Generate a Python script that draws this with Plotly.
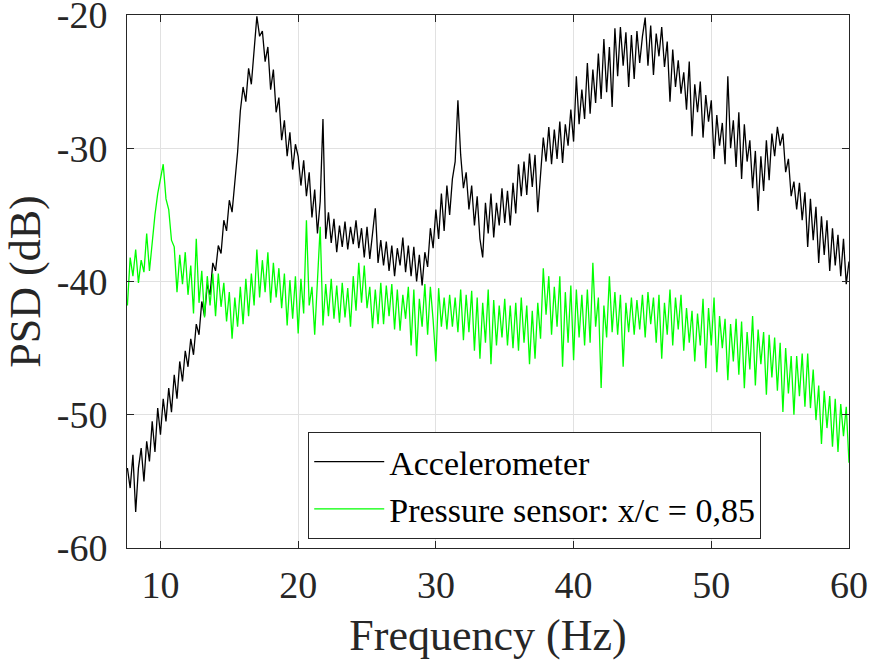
import plotly.graph_objects as go

freq = [
    7.6, 7.8,
    8.0, 8.2, 8.4, 8.6, 8.8, 9.0, 9.2, 9.4, 9.6, 9.8,
    10.0, 10.2, 10.4, 10.6, 10.8, 11.0, 11.2, 11.4, 11.6, 11.8,
    12.0, 12.2, 12.4, 12.6, 12.8, 13.0, 13.2, 13.4, 13.6, 13.8,
    14.0, 14.2, 14.4, 14.6, 14.8, 15.0, 15.2, 15.4, 15.6, 15.8,
    16.0, 16.2, 16.4, 16.6, 16.8, 17.0, 17.2, 17.4, 17.6, 17.8,
    18.0, 18.2, 18.4, 18.6, 18.8, 19.0, 19.2, 19.4, 19.6, 19.8,
    20.0, 20.2, 20.4, 20.6, 20.8, 21.0, 21.2, 21.4, 21.6, 21.8,
    22.0, 22.2, 22.4, 22.6, 22.8, 23.0, 23.2, 23.4, 23.6, 23.8,
    24.0, 24.2, 24.4, 24.6, 24.8, 25.0, 25.2, 25.4, 25.6, 25.8,
    26.0, 26.2, 26.4, 26.6, 26.8, 27.0, 27.2, 27.4, 27.6, 27.8,
    28.0, 28.2, 28.4, 28.6, 28.8, 29.0, 29.2, 29.4, 29.6, 29.8,
    30.0, 30.2, 30.4, 30.6, 30.8, 31.0, 31.2, 31.4, 31.6, 31.8,
    32.0, 32.2, 32.4, 32.6, 32.8, 33.0, 33.2, 33.4, 33.6, 33.8,
    34.0, 34.2, 34.4, 34.6, 34.8, 35.0, 35.2, 35.4, 35.6, 35.8,
    36.0, 36.2, 36.4, 36.6, 36.8, 37.0, 37.2, 37.4, 37.6, 37.8,
    38.0, 38.2, 38.4, 38.6, 38.8, 39.0, 39.2, 39.4, 39.6, 39.8,
    40.0, 40.2, 40.4, 40.6, 40.8, 41.0, 41.2, 41.4, 41.6, 41.8,
    42.0, 42.2, 42.4, 42.6, 42.8, 43.0, 43.2, 43.4, 43.6, 43.8,
    44.0, 44.2, 44.4, 44.6, 44.8, 45.0, 45.2, 45.4, 45.6, 45.8,
    46.0, 46.2, 46.4, 46.6, 46.8, 47.0, 47.2, 47.4, 47.6, 47.8,
    48.0, 48.2, 48.4, 48.6, 48.8, 49.0, 49.2, 49.4, 49.6, 49.8,
    50.0, 50.2, 50.4, 50.6, 50.8, 51.0, 51.2, 51.4, 51.6, 51.8,
    52.0, 52.2, 52.4, 52.6, 52.8, 53.0, 53.2, 53.4, 53.6, 53.8,
    54.0, 54.2, 54.4, 54.6, 54.8, 55.0, 55.2, 55.4, 55.6, 55.8,
    56.0, 56.2, 56.4, 56.6, 56.8, 57.0, 57.2, 57.4, 57.6, 57.8,
    58.0, 58.2, 58.4, 58.6, 58.8, 59.0, 59.2, 59.4, 59.6, 59.8,
    60.0,
]

accelerometer_db = [
    -54.0, -55.5,
    -53.0, -57.3, -54.0, -52.5, -55.0, -52.0, -53.5, -50.5, -52.8, -49.5,
    -51.5, -48.8, -50.5, -48.0, -49.8, -47.0, -48.8, -46.0, -47.5, -45.2,
    -46.4, -44.3, -45.5, -43.2, -44.0, -41.5, -42.6, -40.2, -41.0, -38.6,
    -39.2, -37.3, -37.9, -35.4, -36.2, -33.9, -34.8, -32.8, -30.3, -27.2,
    -25.4, -26.5, -24.0, -25.2, -22.6, -20.1, -21.6, -21.2, -23.5, -22.4,
    -25.6, -24.1, -27.3, -26.2, -29.4, -27.9, -30.6, -28.8, -31.6, -29.7,
    -30.6, -32.8, -30.9, -33.6, -31.8, -35.2, -33.1, -36.4, -34.0, -27.8,
    -36.8, -34.8, -37.1, -35.3, -37.8, -35.8, -37.4, -35.5, -37.6, -35.9,
    -37.2, -35.4, -37.5, -36.0, -38.2, -35.9, -38.3, -36.5, -34.5, -38.6,
    -36.9, -38.8, -37.0, -39.2, -37.3, -39.6, -37.5, -38.8, -36.7, -39.3,
    -37.3, -39.6, -37.4, -40.0, -38.0, -40.3, -37.8, -38.9, -36.0, -37.5,
    -34.6, -36.8, -33.4, -36.2, -32.8, -35.0, -32.3, -31.0, -26.4, -30.5,
    -33.0, -31.8, -34.6, -32.8, -35.8, -33.6, -36.8, -38.2, -34.1, -36.4,
    -33.4, -36.7, -34.1, -35.8, -33.0, -35.6, -33.2, -35.8, -32.6, -34.9,
    -31.2, -33.6, -31.0, -33.5, -30.4, -32.9, -30.5, -34.8, -31.6, -29.2,
    -31.0, -28.4, -31.2, -28.6, -30.8, -28.0, -31.1, -28.2, -29.8, -27.1,
    -29.5, -24.6, -28.2, -25.6, -27.8, -23.6, -27.4, -24.1, -26.6, -22.9,
    -26.3, -21.8, -25.8, -22.4, -26.9, -21.0, -24.6, -20.9, -23.8, -21.3,
    -25.4, -21.5, -24.8, -21.2, -23.6, -21.6, -20.2, -23.8, -20.8, -24.5,
    -21.4, -23.1, -20.9, -23.9, -22.0, -26.5, -22.6, -25.4, -23.4, -25.9,
    -24.3, -27.1, -23.5, -29.1, -25.2, -27.3, -25.0, -29.2, -26.0, -28.0,
    -26.4, -30.8, -27.5, -29.8, -28.1, -31.2, -24.6, -30.0, -27.9, -31.4,
    -27.3, -32.3, -28.2, -31.0, -29.4, -33.0, -30.2, -34.7, -30.6, -33.2,
    -29.4, -32.4, -28.9, -30.6, -28.4, -29.8, -28.9, -31.8, -30.8, -33.6,
    -32.5, -34.6, -32.6, -35.4, -33.3, -37.4, -33.8, -36.9, -34.4, -38.6,
    -35.1, -38.0, -35.4, -39.2, -36.0, -38.8, -36.5, -39.6, -36.8, -40.2,
    -38.5,
]

pressure_db = [
    -41.8, -38.2,
    -39.6, -37.6, -40.1, -38.4, -39.3, -36.4, -39.2, -36.8, -35.0, -33.4,
    -32.3, -31.2, -33.8, -34.6, -36.9, -37.4, -40.8, -38.0, -40.2, -37.8,
    -41.0, -38.8, -42.4, -36.8, -41.6, -39.2, -42.7, -39.6, -41.8, -39.4,
    -42.6, -39.4, -41.9, -40.1, -43.0, -40.8, -44.3, -41.2, -43.4, -40.4,
    -43.2, -39.8, -42.6, -39.4, -41.8, -37.6, -41.2, -38.4, -40.8, -37.8,
    -41.6, -38.6, -41.2, -39.0, -42.0, -39.4, -43.3, -39.9, -42.8, -39.6,
    -43.9, -39.8, -42.4, -35.4, -41.8, -40.4, -44.0, -40.0, -35.9, -43.3,
    -40.2, -42.6, -39.8, -42.8, -40.3, -43.1, -40.1, -42.7, -40.5, -43.4,
    -39.6, -42.2, -38.6, -41.6, -38.8, -42.0, -40.4, -43.5, -40.6, -43.2,
    -40.1, -43.2, -40.3, -42.6, -40.2, -43.6, -40.6, -43.7, -41.0, -42.8,
    -40.4, -44.8, -40.6, -45.6, -41.3, -43.4, -40.2, -44.0, -40.4, -42.9,
    -46.0, -40.5, -43.4, -41.2, -43.6, -41.0, -43.4, -41.2, -43.8, -40.6,
    -44.4, -41.0, -43.8, -40.7, -45.2, -41.2, -45.8, -41.6, -44.6, -40.6,
    -46.2, -41.4, -44.8, -41.8, -44.2, -41.3, -44.8, -41.8, -45.0, -41.6,
    -45.2, -41.2, -44.6, -41.8, -46.2, -42.2, -45.8, -41.6, -44.3, -39.0,
    -42.5, -39.6, -44.0, -40.4, -43.4, -39.6, -46.4, -40.8, -44.6, -40.3,
    -45.9, -40.6, -44.2, -41.0, -44.8, -40.6, -44.6, -38.6, -43.4, -41.2,
    -48.0, -41.8, -44.2, -39.6, -43.8, -40.8, -44.0, -41.0, -46.4, -41.6,
    -43.8, -41.2, -44.0, -41.4, -43.6, -41.0, -44.2, -40.8, -43.2, -41.2,
    -44.6, -41.0, -45.8, -41.6, -44.0, -40.6, -44.8, -41.2, -43.6, -41.0,
    -45.2, -42.0, -44.6, -42.2, -46.0, -42.4, -44.8, -41.3, -46.5, -42.0,
    -44.8, -41.2, -46.8, -42.6, -45.0, -42.8, -47.4, -43.2, -46.0, -42.8,
    -47.0, -43.0, -48.0, -43.8, -46.6, -42.6, -47.8, -43.6, -46.2, -43.8,
    -48.5, -44.0, -47.2, -44.2, -48.2, -44.6, -49.8, -45.0, -48.4, -45.6,
    -50.0, -45.6, -48.6, -45.4, -49.4, -45.4, -49.5, -46.6, -50.4, -47.8,
    -52.2, -48.2, -51.0, -48.6, -52.4, -48.8, -52.8, -49.2, -51.6, -49.4,
    -53.6,
]

series_names = ["Accelerometer", "Pressure sensor: x/c = 0,85"]
x_ticks = [10, 20, 30, 40, 50, 60]
y_ticks = [-60, -50, -40, -30, -20]

FONT = "Liberation Serif, Times New Roman, serif"
AX = "#262626"

fig = go.Figure()
fig.add_trace(go.Scatter(x=freq, y=accelerometer_db, mode="lines", name=series_names[0],
                         line=dict(color="#000000", width=1.3)))
fig.add_trace(go.Scatter(x=freq, y=pressure_db, mode="lines", name=series_names[1],
                         line=dict(color="#00ff00", width=1.3)))

axis_common = dict(
    showline=True, linecolor=AX, linewidth=1, mirror="ticks",
    ticks="inside", ticklen=7, tickcolor=AX, tickwidth=1,
    showgrid=True, gridcolor="#e1e1e1", gridwidth=1, zeroline=False,
    tickfont=dict(family=FONT, size=38, color=AX),
    ticklabeloverflow="allow", automargin=False,
)

fig.update_layout(
    width=869, height=661,
    margin=dict(l=127, r=20, t=15, b=113),
    paper_bgcolor="white", plot_bgcolor="white",
    font=dict(family=FONT, color=AX),
    xaxis=dict(range=[7.57, 60], tickvals=x_ticks, ticktext=[str(v) for v in x_ticks],
               title=dict(text="Frequency (Hz)", font=dict(family=FONT, size=44, color=AX), standoff=14),
               ticklabelstandoff=3,
               **axis_common),
    yaxis=dict(range=[-60, -20], tickvals=y_ticks, ticktext=[str(v) for v in y_ticks],
               title=dict(text="PSD (dB)", font=dict(family=FONT, size=44, color=AX), standoff=2),
               ticklabelstandoff=11,
               **axis_common),
    legend=dict(x=0.251, y=0.2176, xanchor="left", yanchor="top",
                bgcolor="white", bordercolor=AX, borderwidth=1,
                font=dict(family=FONT, size=34, color="#000000"),
                itemwidth=70, tracegroupgap=0),
    showlegend=True,
)

fig.write_html("out.html", config={"displayModeBar": False},
               post_script="document.body.style.margin='0';document.body.style.overflow='hidden';")
